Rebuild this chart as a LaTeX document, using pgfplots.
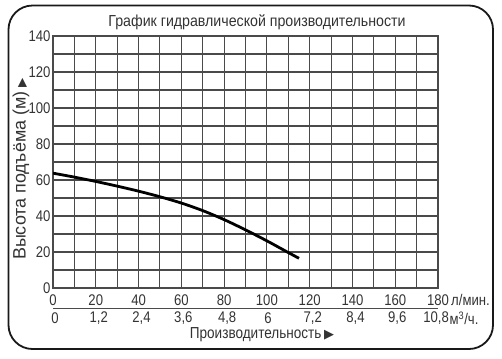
\documentclass[border=0pt]{standalone}
\usepackage{pgfplots}
\pgfplotsset{compat=1.18}
\usepackage{fontspec}
\setmainfont{Liberation Sans}[FakeStretch=0.85]
\newfontfamily\titlefont{Liberation Sans}[FakeStretch=0.89]
\newfontfamily\ylabfont{Liberation Sans}
\newfontfamily\sym{DejaVu Sans}
\definecolor{txt}{HTML}{333333}
\definecolor{gridc}{HTML}{4A4A4A}
\begin{document}
\begin{tikzpicture}[x=1bp,y=1bp]
\useasboundingbox (0,0) rectangle (502,-358);
\draw[line width=1.8bp, rounded corners=24bp, black!90] (8.5,-5.5) rectangle (493,-349);
\begin{axis}[
  at={(53bp,-288bp)}, anchor=south west,
  width=385bp, height=252bp, scale only axis,
  xmin=0, xmax=180, ymin=0, ymax=140,
  xtick={0,20,...,180}, ytick={0,20,...,140},
  minor xtick={10,30,...,170}, minor ytick={10,30,...,130},
  grid=both,
  major grid style={gridc, line width=1.1bp},
  minor grid style={gridc, line width=1.1bp},
  axis line style={gridc, line width=1.3bp},
  tick style={draw=none},
  ticklabel style={font=\fontsize{15.5}{15.5}\selectfont, text=txt},
  /pgf/number format/assume math mode=true,
  xticklabel style={inner sep=0pt, anchor=center, yshift=-12bp},
  yticklabel style={xshift=1bp},
]
\addplot[black, line width=2.8bp, smooth] coordinates {
(0,63.8) (10,61.6) (20,59.2) (30,56.6) (40,53.8) (50,50.7) (60,47.2) (70,43) (80,38) (90,32.3) (100,26.2) (110,19.7) (115,16.5)
};
\end{axis}
\draw[gridc, line width=1.3bp] (53,-308.3) -- (438,-308.3);
\foreach \i/\l/\dx in {0/0/2,1/{1,2}/3,2/{2,4}/3,3/{3,6}/2,4/{4,8}/3,5/6/1,6/{7,2}/3,7/{8,4}/3,8/{9,6}/2,9/{10,8}/-2}
  \node[font=\fontsize{15.5}{15.5}\selectfont, text=txt, inner sep=0pt] at ({53+\i*42.78+\dx},-318) {\l};
\node[font=\fontsize{15.5}{15.5}\selectfont, text=txt, anchor=west, inner sep=0] at (451,-300) {л/мин.};
\node[font=\fontsize{15.5}{15.5}\selectfont, text=txt, anchor=west, inner sep=0] at (449.5,-318) {м\textsuperscript{3}/ч.};
\node[font=\fontsize{16}{16}\selectfont, text=txt, inner sep=0pt] at (262,-334.5) {Производительность\,{\sym\fontsize{13}{13}\selectfont ▶}};
\node[font=\ylabfont\fontsize{18}{18}\selectfont, text=txt, rotate=90, inner sep=0pt] at (21,-169) {Высота подъёма (м)\hspace{4bp}{\sym\fontsize{12}{12}\selectfont ▶}};
\node[font=\titlefont\fontsize{16}{16}\selectfont, text=txt, inner sep=0pt] at (257,-22) {График гидравлической производительности};
\end{tikzpicture}
\end{document}
